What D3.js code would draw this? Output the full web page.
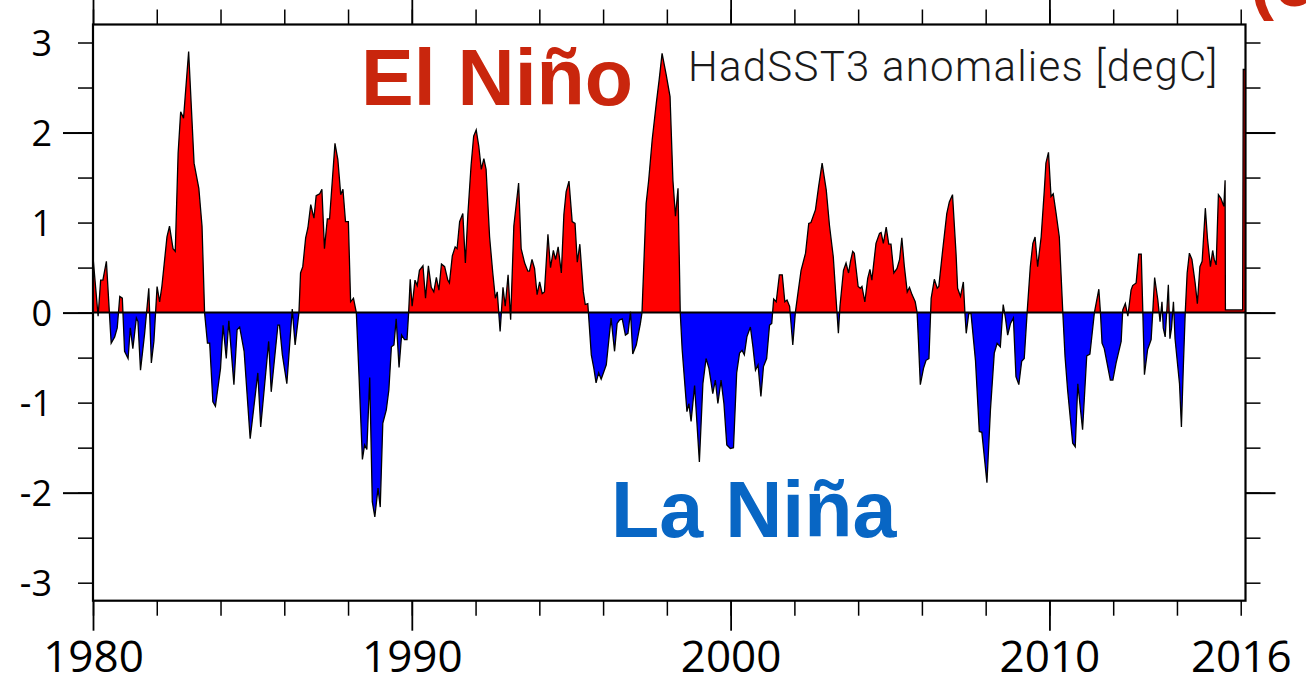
<!DOCTYPE html>
<html>
<head>
<meta charset="utf-8">
<script src="https://cdn.jsdelivr.net/npm/d3@7"></script>
<style>
  html, body { margin: 0; padding: 0; background: #fff; overflow: hidden; }
  svg { display: block; }
</style>
</head>
<body>
<svg id="chart" width="1306" height="679"></svg>
<script>
// Niño-region SST anomaly (HadSST3), decimal year and anomaly in degC
const years = [
  1980.00,1980.16,1980.24,1980.31,1980.42,1980.57,1980.68,1980.76,1980.84,1980.92,
  1980.99,1981.10,1981.17,1981.25,1981.36,1981.41,1981.49,1981.62,1981.75,1981.83,
  1981.91,1982.01,1982.09,1982.16,1982.32,1982.40,1982.51,1982.58,1982.67,1982.75,
  1982.84,1983.00,1983.17,1983.32,1983.42,1983.50,1983.59,1983.66,1983.76,1983.84,
  1984.00,1984.08,1984.18,1984.26,1984.42,1984.52,1984.60,1984.74,1984.93,1985.17,
  1985.26,1985.51,1985.59,1985.80,1985.85,1985.94,1986.08,
  1986.25,1986.34,1986.46,1986.51,1986.58,1986.67,1986.74,1986.83,1986.93,1987.00,
  1987.11,1987.18,1987.26,1987.35,1987.42,1987.59,1987.68,1987.77,1987.84,1987.92,
  1988.01,1988.08,1988.17,1988.26,1988.34,1988.45,1988.52,1988.59,1988.68,1988.76,
  1988.84,1988.94,1989.01,1989.09,1989.20,1989.28,1989.36,1989.44,1989.51,1989.60,
  1989.68,1989.77,1989.85,1989.90,1989.95,1990.01,1990.10,1990.17,1990.24,1990.35,
  1990.43,1990.52,1990.61,1990.69,1990.77,1990.85,1990.93,1991.03,1991.13,1991.18,
  1991.27,1991.36,1991.42,1991.50,1991.60,1991.68,1991.76,1991.86,1991.94,1992.02,
  1992.10,1992.18,1992.26,1992.33,
  1992.44,1992.54,1992.62,1992.68,1992.77,1992.86,1992.93,1993.02,1993.10,1993.20,
  1993.35,1993.43,1993.54,1993.64,1993.69,1993.77,1993.85,1993.93,1994.01,1994.09,
  1994.16,1994.27,1994.35,1994.44,1994.51,1994.59,1994.69,1994.77,1994.84,1994.93,
  1995.03,1995.12,1995.19,1995.27,1995.38,1995.44,1995.52,1995.63,1995.71,1995.78,
  1995.86,1995.94,1996.10,1996.25,1996.36,1996.44,1996.52,1996.60,1996.70,1996.78,
  1996.86,1996.93,1997.04,1997.17,1997.22,1997.35,1997.43,1997.54,1997.67,1997.76,
  1997.85,1997.98,1998.10,1998.19,1998.27,1998.35,1998.42,
  1998.48,1998.63,1998.69,1998.76,1998.87,1999.02,1999.13,1999.23,1999.32,1999.44,
  1999.52,1999.60,1999.70,1999.79,1999.88,1999.99,2000.09,2000.19,2000.28,2000.36,
  2000.43,2000.51,2000.62,2000.70,2000.78,2000.86,2000.95,2001.03,2001.13,2001.22,
  2001.29,2001.35,2001.43,2001.53,2001.62,2001.70,2001.77,2001.85,2001.95,2002.03,
  2002.11,2002.21,2002.35,2002.45,2002.52,2002.66,2002.76,2002.87,2003.00,2003.10,
  2003.22,2003.31,2003.38,2003.43,2003.54,2003.62,2003.70,2003.76,2003.83,2003.88,
  2004.00,2004.07,2004.12,2004.21,2004.30,2004.37,2004.43,
  2004.56,2004.67,2004.72,2004.79,2004.88,2004.96,2005.03,2005.12,2005.22,2005.30,
  2005.37,2005.45,2005.54,2005.61,2005.69,2005.79,2005.85,2005.89,2005.95,2006.05,
  2006.13,2006.22,2006.29,2006.39,2006.48,2006.53,2006.65,2006.78,2006.86,2006.96,
  2007.07,2007.12,2007.21,2007.30,2007.35,2007.39,2007.47,2007.54,2007.68,2007.80,
  2007.88,2008.04,2008.15,2008.27,2008.36,2008.46,2008.55,2008.62,2008.69,2008.78,
  2008.87,2008.95,2009.04,2009.13,2009.21,2009.30,2009.40,2009.48,2009.55,2009.63,
  2009.74,2009.84,2009.89,2009.97,2010.05,2010.12,2010.21,2010.31,2010.42,2010.49,
  2010.57,
  2010.73,2010.81,2010.89,2011.04,2011.17,2011.27,2011.34,2011.41,2011.55,2011.60,
  2011.65,2011.72,2011.91,2011.99,2012.09,2012.25,2012.30,2012.38,2012.46,2012.56,
  2012.61,2012.72,2012.80,2012.88,2012.93,2012.98,2013.08,2013.19,2013.24,2013.30,
  2013.40,2013.47,2013.53,2013.57,2013.63,2013.68,2013.73,2013.78,2013.83,2013.89,
  2013.94,2014.08,2014.14,2014.20,2014.26,2014.32,2014.39,2014.47,2014.57,2014.64,
  2014.72,2014.79,2014.89,2014.96,2015.05,2015.12,2015.17,2015.23,2015.30,2015.38,
  2015.47,2015.51,2015.52,2016.06,2016.08,2016.15
];
const anomalies = [
   0.62,-0.04, 0.36, 0.36, 0.57,-0.34,-0.27,-0.17, 0.18, 0.16,
  -0.43,-0.51,-0.17,-0.40,-0.06,-0.10,-0.64,-0.23, 0.27,-0.56,
  -0.32, 0.29, 0.12, 0.29, 0.84, 0.96, 0.71, 0.68, 1.77, 2.23,
   2.16, 2.90, 1.66, 1.38, 0.96, 0.00,-0.34,-0.34,-0.99,-1.04,
  -0.62,-0.14,-0.51,-0.09,-0.80,-0.19,-0.16,-0.43,-1.40,-0.67,
  -1.27,-0.32,-0.88,-0.14,-0.14,-0.47,-0.79,
   0.04,-0.36, 0.00, 0.44, 0.51, 0.83, 0.94, 1.20, 1.05, 1.30,
   1.32, 1.37, 0.71, 1.04, 1.04, 1.88, 1.70, 1.31, 1.37, 1.01,
   1.01, 0.12, 0.16, 0.00,-0.67,-1.63,-1.47,-1.52,-0.72,-2.10,
  -2.27,-1.95,-2.16,-1.23,-1.08,-0.86,-0.38,-0.36,-0.07,-0.61,
  -0.25,-0.30,-0.30, 0.00, 0.37, 0.07, 0.36, 0.30, 0.47, 0.52,
   0.16, 0.52, 0.28, 0.23, 0.39, 0.25, 0.54, 0.51, 0.36, 0.33,
   0.63, 0.73, 0.71, 1.01, 1.10, 0.55, 1.10, 1.64, 1.96, 2.03,
   1.85, 1.59, 1.71, 1.59,
   0.84, 0.44, 0.16, 0.23,-0.21, 0.28, 0.07, 0.42,-0.08, 0.96,
   1.44, 0.71, 0.55, 0.46, 0.46, 0.59, 0.49, 0.20, 0.34, 0.21,
   0.23, 0.87, 0.50, 0.69, 0.59, 0.73, 0.44, 1.09, 1.34, 1.46,
   1.01, 0.99, 0.56, 0.76, 0.23, 0.09, 0.10,-0.47,-0.62,-0.78,
  -0.67,-0.74,-0.58,-0.06,-0.43,-0.12,-0.08,-0.07,-0.25,-0.23,
   0.01,-0.46,-0.36,-0.12, 0.00, 1.21, 1.47, 1.92, 2.33, 2.59,
   2.88, 2.64, 2.40, 1.47, 1.07, 1.38, 0.00,
  -0.41,-1.10,-1.01,-1.21,-0.81,-1.66,-0.79,-0.51,-0.62,-0.90,
  -0.75,-1.01,-0.75,-1.01,-1.47,-1.51,-1.50,-0.67,-0.45,-0.42,
  -0.47,-0.27,-0.16,-0.38,-0.64,-0.58,-0.93,-0.60,-0.51,-0.14,
  -0.12, 0.15, 0.12, 0.42, 0.42, 0.12, 0.14, 0.07,-0.36, 0.00,
   0.21, 0.47, 0.66, 0.99, 1.00, 1.14, 1.40, 1.66, 1.36, 0.97,
   0.62, 0.14,-0.23, 0.07, 0.47, 0.55, 0.44, 0.57, 0.68, 0.66,
   0.29, 0.27, 0.29, 0.12, 0.38, 0.48, 0.36,
   0.77, 0.88, 0.89, 0.77, 0.95, 0.76, 0.76, 0.44, 0.49, 0.59,
   0.83, 0.51, 0.23, 0.28, 0.20, 0.12, 0.00,-0.30,-0.80,-0.62,
  -0.53,-0.51, 0.16, 0.37, 0.27, 0.29, 0.69, 1.10, 1.23, 1.31,
   0.66, 0.27, 0.18, 0.34,-0.01,-0.23,-0.01,-0.01,-0.53,-1.32,
  -1.33,-1.89,-1.08,-0.45,-0.34,-0.38, 0.09,-0.06,-0.25,-0.12,
  -0.06,-0.71,-0.80,-0.54,-0.51, 0.00, 0.51, 0.77, 0.84, 0.51,
   0.84, 1.36, 1.66, 1.78, 1.29, 1.32, 1.10, 0.84, 0.00,-0.49,
  -0.86,
  -1.45,-1.49,-0.79,-1.30,-0.48,-0.46,-0.23, 0.00, 0.26, 0.00,
  -0.34,-0.40,-0.75,-0.75,-0.56,-0.32, 0.03, 0.10,-0.04, 0.25,
   0.30, 0.33, 0.65, 0.65, 0.00,-0.69,-0.41,-0.30, 0.00, 0.39,
   0.14,-0.10, 0.12,-0.17,-0.27, 0.01, 0.31,-0.29,-0.17, 0.12,
  -0.29,-0.79,-1.27,-0.60, 0.00, 0.44, 0.66, 0.59, 0.33, 0.10,
   0.51, 0.57, 1.16, 0.81, 0.51, 0.69, 0.59, 0.53, 1.31, 1.27,
   1.18, 1.47, 0.03, 0.03, 2.70, 2.70
];

// axis ticks and labels
const yLabelValues = [3, 2, 1, 0, -1, -2, -3];
const yMinorTicks = [3, 2.5, 2, 1.5, 1, 0.5, 0, -0.5, -1, -1.5, -2, -2.5, -3];
const yMajorTicks = [2, 0, -2];
const xLabelValues = [1980, 1990, 2000, 2010, 2016];
const xMinorTicks = [1980, 1982, 1984, 1986, 1988, 1990, 1992, 1994, 1996, 1998,
                     2000, 2002, 2004, 2006, 2008, 2010, 2012, 2014, 2016];
const xMajorTicks = [1980, 1990, 2000, 2010];

const svg = d3.select("#chart");
const frame = { left: 93, right: 1245.5, top: 24.5, bottom: 600.7 };

const x = d3.scaleLinear().domain([1980, 2016.15]).range([frame.left, frame.right]);
const y = d3.scaleLinear().domain([-3.2, 3.2]).range([frame.bottom, frame.top]);

const defs = svg.append("defs");
defs.append("clipPath").attr("id", "clip-pos")
  .append("rect")
  .attr("x", frame.left).attr("y", frame.top)
  .attr("width", frame.right - frame.left).attr("height", y(0) - frame.top);
defs.append("clipPath").attr("id", "clip-neg")
  .append("rect")
  .attr("x", frame.left).attr("y", y(0))
  .attr("width", frame.right - frame.left).attr("height", frame.bottom - y(0));
defs.append("clipPath").attr("id", "clip-plot")
  .append("rect")
  .attr("x", frame.left).attr("y", frame.top)
  .attr("width", frame.right - frame.left).attr("height", frame.bottom - frame.top);

const idx = d3.range(years.length);
const area = d3.area()
  .x(i => x(years[i]))
  .y0(y(0))
  .y1(i => y(anomalies[i]));
const line = d3.line()
  .x(i => x(years[i]))
  .y(i => y(anomalies[i]));

// warm (positive) and cold (negative) shading
svg.append("path").datum(idx)
  .attr("d", area).attr("fill", "#ff0000").attr("clip-path", "url(#clip-pos)");
svg.append("path").datum(idx)
  .attr("d", area).attr("fill", "#0000ff").attr("clip-path", "url(#clip-neg)");

const plotG = svg.append("g").attr("clip-path", "url(#clip-plot)");
plotG.append("path").datum(idx)
  .attr("d", line)
  .attr("fill", "none")
  .attr("stroke", "#000")
  .attr("stroke-width", 1.3)
  .attr("stroke-linejoin", "miter");

// zero line
svg.append("line")
  .attr("x1", frame.left).attr("x2", frame.right)
  .attr("y1", y(0)).attr("y2", y(0))
  .attr("stroke", "#000").attr("stroke-width", 2);

// axes
function styleTicks(g, width) {
  g.select(".domain").remove();
  g.selectAll(".tick line").attr("stroke", "#000").attr("stroke-width", width);
}
const plainNumber = d => String(d);

const bottomY = frame.bottom, topY = frame.top;
svg.append("g").attr("transform", `translate(0,${bottomY})`)
  .call(d3.axisBottom(x).tickValues(xMinorTicks).tickSize(15).tickFormat(""))
  .call(g => styleTicks(g, 1.5));
svg.append("g").attr("transform", `translate(0,${bottomY})`)
  .call(d3.axisBottom(x).tickValues(xMajorTicks).tickSize(30).tickFormat(""))
  .call(g => styleTicks(g, 1.8));
svg.append("g").attr("transform", `translate(0,${bottomY})`)
  .call(d3.axisBottom(x).tickValues(xLabelValues).tickSize(0).tickPadding(40).tickFormat(plainNumber))
  .call(g => {
    g.select(".domain").remove();
    g.selectAll("text")
      .attr("fill", "#000")
      .style("font-family", "'Open Sans', 'Noto Sans', sans-serif")
      .style("font-size", "44px");
  });

svg.append("g").attr("transform", `translate(0,${topY})`)
  .call(d3.axisTop(x).tickValues(xMinorTicks).tickSize(15).tickFormat(""))
  .call(g => styleTicks(g, 1.5));
svg.append("g").attr("transform", `translate(0,${topY})`)
  .call(d3.axisTop(x).tickValues(xMajorTicks).tickSize(30).tickFormat(""))
  .call(g => styleTicks(g, 1.8));

svg.append("g").attr("transform", `translate(${frame.left},0)`)
  .call(d3.axisLeft(y).tickValues(yMinorTicks).tickSize(15).tickFormat(""))
  .call(g => styleTicks(g, 1.5));
svg.append("g").attr("transform", `translate(${frame.left},0)`)
  .call(d3.axisLeft(y).tickValues(yMajorTicks).tickSize(30).tickFormat(""))
  .call(g => styleTicks(g, 2));
svg.append("g").attr("transform", `translate(${frame.left},0)`)
  .call(d3.axisLeft(y).tickValues(yLabelValues).tickSize(0).tickPadding(41).tickFormat(plainNumber))
  .call(g => {
    g.select(".domain").remove();
    g.selectAll("text")
      .attr("fill", "#000")
      .attr("dy", "0.36em")
      .style("font-family", "'Open Sans', 'Noto Sans', sans-serif")
      .style("font-size", "36px");
  });

svg.append("g").attr("transform", `translate(${frame.right},0)`)
  .call(d3.axisRight(y).tickValues(yMinorTicks).tickSize(15).tickFormat(""))
  .call(g => styleTicks(g, 1.5));
svg.append("g").attr("transform", `translate(${frame.right},0)`)
  .call(d3.axisRight(y).tickValues(yMajorTicks).tickSize(30).tickFormat(""))
  .call(g => styleTicks(g, 2));

// plot frame
svg.append("rect")
  .attr("x", frame.left).attr("y", frame.top)
  .attr("width", frame.right - frame.left).attr("height", frame.bottom - frame.top)
  .attr("fill", "none").attr("stroke", "#000").attr("stroke-width", 2.2);

// annotations
svg.append("text")
  .attr("x", 361).attr("y", 105)
  .attr("fill", "#c9260d")
  .style("font-family", "'Liberation Sans', Arial, sans-serif")
  .style("font-weight", "bold")
  .style("font-size", "79px")
  .text("El Niño");

svg.append("text")
  .attr("x", 611).attr("y", 537)
  .attr("fill", "#0866c4")
  .style("font-family", "'Liberation Sans', Arial, sans-serif")
  .style("font-weight", "bold")
  .style("font-size", "79px")
  .text("La Niña");

svg.append("text")
  .attr("x", 688).attr("y", 81)
  .attr("fill", "#1a1a1a")
  .style("font-family", "Roboto, 'Liberation Sans', sans-serif")
  .style("font-weight", "300")
  .style("font-size", "42px")
  .style("letter-spacing", "1.25px")
  .text("HadSST3 anomalies [degC]");

svg.append("text")
  .attr("x", 1250).attr("y", 6)
  .attr("fill", "#c9260d")
  .style("font-family", "'Liberation Sans', Arial, sans-serif")
  .style("font-weight", "bold")
  .style("font-size", "72px")
  .text("(c");
</script>
</body>
</html>
